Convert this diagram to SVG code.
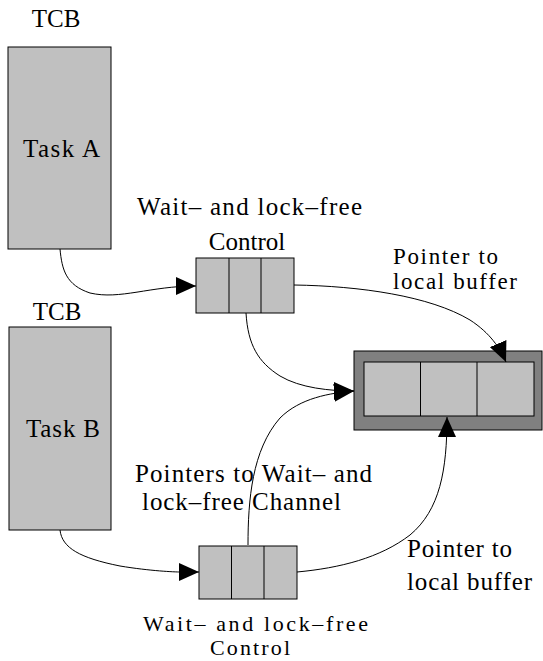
<svg xmlns="http://www.w3.org/2000/svg" width="543" height="661" viewBox="0 0 543 661">
<style>
text{font-family:"Liberation Serif","Times New Roman",serif;font-size:25px;fill:#000}
.sm{font-size:23px}
.xs{font-size:22px}
.box{fill:#c0c0c0;stroke:#000;stroke-width:1}
.outer{fill:#808080;stroke:#000;stroke-width:1}
.div{stroke:#000;stroke-width:1}
.conn{fill:none;stroke:#000;stroke-width:1}
</style>
<defs>
<marker id="arr" viewBox="0 0 20 18" refX="20" refY="9" markerWidth="20" markerHeight="18" markerUnits="userSpaceOnUse" orient="auto">
<path d="M0,0 L20,9 L0,18 Z" fill="#000"/>
</marker>
</defs>
<rect width="543" height="661" fill="#fff"/>
<g id="taskA">
<text x="56" y="27" text-anchor="middle">TCB</text>
<rect class="box" x="8" y="47" width="103" height="202"/>
<text x="23" y="157" textLength="77">Task A</text>
</g>
<g id="taskB">
<text x="57" y="320" text-anchor="middle">TCB</text>
<rect class="box" x="9" y="327" width="102" height="203"/>
<text x="26" y="437" textLength="74">Task B</text>
</g>
<g id="controlA">
<text x="137" y="215" textLength="225">Wait– and lock–free</text>
<text x="247" y="250" text-anchor="middle">Control</text>
<rect class="box" x="196" y="258" width="98" height="55"/>
<line class="div" x1="229" y1="258" x2="229" y2="313"/>
<line class="div" x1="261" y1="258" x2="261" y2="313"/>
</g>
<g id="controlB">
<rect class="box" x="199" y="546" width="98" height="53"/>
<line class="div" x1="231.5" y1="546" x2="231.5" y2="599"/>
<line class="div" x1="264" y1="546" x2="264" y2="599"/>
<text class="xs" x="143" y="631" textLength="225">Wait– and lock–free</text>
<text class="xs" x="250" y="655" text-anchor="middle" textLength="80">Control</text>
</g>
<g id="buffer">
<rect class="outer" x="354" y="351" width="188" height="79"/>
<rect class="box" x="364" y="362" width="170" height="54"/>
<line class="div" x1="420.5" y1="362" x2="420.5" y2="416"/>
<line class="div" x1="477" y1="362" x2="477" y2="416"/>
</g>
<g id="labels">
<text class="sm" x="393" y="264" textLength="105">Pointer to</text>
<text class="sm" x="393" y="289" textLength="124">local buffer</text>
<text x="135" y="482" textLength="237">Pointers to Wait– and</text>
<text x="142" y="510" textLength="199">lock–free Channel</text>
<text x="407" y="557" textLength="105">Pointer to</text>
<text x="407" y="590" textLength="125">local buffer</text>
</g>
<g id="connectors">
<path class="conn" marker-end="url(#arr)" d="M60,249 C62,270 66,285 90,293 C120,300 150,286 196,286"/>
<path class="conn" marker-end="url(#arr)" d="M294,285 C360,286 430,296 470,320 C490,333 500,348 506,362"/>
<path class="conn" marker-end="url(#arr)" d="M246,313 C248,345 258,362 280,376 C300,388 330,391 354,391"/>
<path class="conn" marker-end="url(#arr)" d="M248,545 C248,500 252,450 280,418 C300,398 330,393 354,391"/>
<path class="conn" d="M60,530 C62,548 80,558 120,566 C150,571 175,572 180,572"/>
<path class="conn" marker-end="url(#arr)" d="M180,572 L199,572"/>
<path class="conn" marker-end="url(#arr)" d="M297,572 C340,568 380,558 410,535 C440,510 447,470 447,417"/>
</g>
</svg>
